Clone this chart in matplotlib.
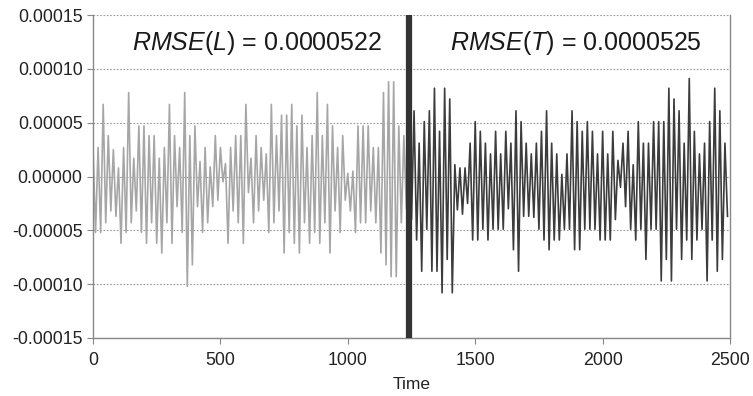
import numpy as np
import matplotlib
matplotlib.use("Agg")
import matplotlib.pyplot as plt

plt.rcParams['font.family'] = ['Liberation Sans', 'DejaVu Sans']
plt.rcParams['mathtext.fontset'] = 'custom'
plt.rcParams['mathtext.rm'] = 'Liberation Sans'
plt.rcParams['mathtext.it'] = 'Liberation Sans:italic'

# residuals, in units of 1e-5, one point every 10 time steps
learn_vals = [
    2.7, -5.2, 2.7, -5.2, 6.7, -4.3, 3.8, -3.2, 2.5, -3.7,
    0.8, -6.2, 2.7, -5.2, 7.8, -4.3, 1.7, -3.2, 4.7, -5.2,
    4.7, -6.2, 3.8, -4.3, 3.8, -6.2, 1.7, -7.1, 2.7, -4.3,
    6.7, -6.2, 3.8, -2.8, 2.7, -5.2, 7.8, -10.2, 3.8, -8.2,
    4.7, -2.8, 1.4, -5.2, 2.7, -4.3, 0.9, -2.8, 3.8, -2.2,
    2.7, -0.5, 1.2, -6.2, 2.7, -3.2, 3.8, -4.3, 3.8, -6.2,
    6.7, -1.5, 1.7, -4.3, 3.8, -3.2, 2.7, -2.2, 2.1, -5.2,
    6.7, -4.3, 3.8, -3.2, 5.7, -7.1, 5.7, -5.2, 6.7, -6.2,
    4.7, -7.1, 5.7, -4.3, 2.7, -6.2, 3.8, -5.2, 7.8, -6.2,
    3.8, -4.3, 6.7, -7.1, 4.7, -3.2, 2.7, -5.2, 3.8, -2.2,
    0.3, -3.2, 0.5, -5.2, 4.7, -4.3, 4.7, -4.3, 4.7, -3.2,
    2.7, -4.3, 2.7, -7.1, 7.8, -8.2, 8.8, -9.3, 8.8, -9.3,
    4.7, -4.3, 3.8, -3.0, 1.0,
]
test_vals = [
    1.0, -4.0, 6.1, -5.9, 3.1, -8.8, 5.1, -4.9, 6.1, -8.8,
    8.2, -8.8, 4.2, -10.8, 8.2, -7.7, 7.2, -10.8, 1.1, -3.1,
    0.8, -3.5, 0.8, -2.5, 3.1, -5.9, 5.1, -5.9, 4.2, -4.9,
    3.1, -5.9, 2.1, -4.9, 4.2, -4.9, 2.1, -4.9, 4.2, -3.0,
    3.1, -6.8, 6.1, -8.8, 5.1, -3.7, 3.1, -3.7, 2.1, -3.8,
    3.1, -4.9, 4.2, -5.9, 6.1, -6.8, 3.1, -5.9, 2.1, -5.9,
    0.2, -4.9, 2.1, -4.9, 6.1, -6.8, 5.1, -6.8, 4.2, -4.9,
    5.1, -4.9, 4.2, -4.9, 2.1, -5.9, 4.2, -5.9, 2.1, -5.9,
    4.2, -4.0, 1.5, -1.0, 3.1, -2.8, 4.2, -4.9, 1.1, -5.9,
    5.1, -4.9, 3.1, -7.7, 3.1, -4.9, 5.1, -4.9, 5.1, -9.7,
    5.1, -7.7, 8.2, -9.7, 7.2, -4.9, 6.1, -7.7, 3.1, -5.9,
    9.1, -7.7, 4.2, -5.9, 2.1, -4.9, 3.1, -9.7, 5.1, -5.9,
    8.2, -8.8, 6.1, -7.7, 3.1, -3.7,
]
split_time = 1240
step = 10
rmse_left = "0.0000522"
rmse_right = "0.0000525"
yticks = [-0.00015, -0.0001, -0.00005, 0.0, 0.00005, 0.0001, 0.00015]
ylabels = ["-0.00015", "-0.00010", "-0.00005", "0.00000", "0.00005", "0.00010", "0.00015"]
xticks = [0, 500, 1000, 1500, 2000, 2500]

t_learn = np.arange(len(learn_vals)) * step
t_test = split_time + np.arange(len(test_vals)) * step
y_learn = np.array(learn_vals) * 1e-5
y_test = np.array(test_vals) * 1e-5

fig = plt.figure(figsize=(7.53, 3.96), dpi=100)
ax = fig.add_axes([0.1235, 0.1465, 0.8460, 0.8155])

for v in yticks:
    ax.axhline(v, color='#999999', lw=0.8, ls=(0, (1.5, 1.5)), zorder=0)

ax.plot(t_learn, y_learn, color='#a6a6a6', lw=1.2, zorder=2)
ax.plot(t_test, y_test, color='#3c3c3c', lw=1.2, zorder=3)
ax.axvline(split_time, color='#333333', lw=4.5, zorder=4)

ax.text(644, 0.000124, r'$\mathit{RMSE}$($\mathit{L}$) = ' + rmse_left,
        ha='center', va='center', fontsize=18, color='#1a1a1a')
ax.text(1896, 0.000124, r'$\mathit{RMSE}$($\mathit{T}$) = ' + rmse_right,
        ha='center', va='center', fontsize=18, color='#1a1a1a')

ax.set_xlim(0, 2500)
ax.set_ylim(-0.00015, 0.00015)
ax.set_xticks(xticks)
ax.set_yticks(yticks)
ax.set_yticklabels(ylabels)
ax.set_xlabel('Time', fontsize=12.5, color='#222222', labelpad=6)

for s in ['left', 'bottom', 'right']:
    ax.spines[s].set_color('#888888')
    ax.spines[s].set_linewidth(1.0)
ax.spines['top'].set_visible(False)
ax.tick_params(axis='both', colors='#888888', labelcolor='#222222',
               labelsize=12.8, length=4, direction='out')
ax.tick_params(axis='x', pad=6)

fig.savefig('out.png', dpi=100)
